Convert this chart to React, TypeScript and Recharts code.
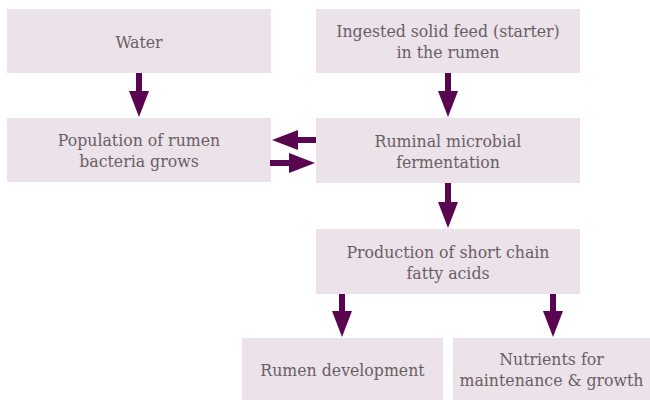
import React from 'react';
import { ScatterChart, Scatter, XAxis, YAxis, ReferenceArea, ReferenceLine } from 'recharts';

// Flowchart boxes in data coordinates (domain 0-650 x, 0-400 y)
const boxLabels: string[][] = [
  ['Water'],
  ['Ingested solid feed (starter)', 'in the rumen'],
  ['Population of rumen', 'bacteria grows'],
  ['Ruminal microbial', 'fermentation'],
  ['Production of short chain', 'fatty acids'],
  ['Rumen development'],
  ['Nutrients for', 'maintenance & growth'],
];
const boxX1 = [7, 316, 7, 316, 316, 242, 453];
const boxX2 = [271, 580, 271, 580, 580, 443, 650];
const boxY1 = [9, 9, 118, 118, 229, 338, 338];
const boxY2 = [73, 73, 182, 183, 294, 400, 400];

// Arrows: start point and tip point, direction of the head
const arrowFromX = [139, 448, 316, 270, 448, 342, 553];
const arrowFromY = [73, 73, 140, 163, 183, 294, 294];
const arrowTipX = [139, 448, 272, 315, 448, 342, 553];
const arrowTipY = [117, 117, 140, 163, 228, 337, 337];
const arrowDir = ['down', 'down', 'left', 'right', 'down', 'down', 'down'];

const HEAD_LEN = 26;
const BOX_FILL = '#ece2ea';
const ARROW = '#5a0550';
const TEXT = '#6b5e63';
const FONT = '"DejaVu Serif Condensed", "DejaVu Serif", serif';

const shaftEnds = arrowDir.map((d, i) => {
  if (d === 'down') return { x: arrowTipX[i], y: arrowTipY[i] - HEAD_LEN + 2 };
  if (d === 'left') return { x: arrowTipX[i] + HEAD_LEN - 2, y: arrowTipY[i] };
  return { x: arrowTipX[i] - HEAD_LEN + 2, y: arrowTipY[i] };
});

const headData = arrowDir.map((d, i) => ({ x: arrowTipX[i], y: arrowTipY[i], dir: d }));

const Head = (props: any) => {
  const { cx, cy, payload } = props;
  const L = HEAD_LEN;
  const W = 10;
  let pts = '';
  if (payload.dir === 'down') pts = `${cx},${cy} ${cx - W},${cy - L} ${cx + W},${cy - L}`;
  else if (payload.dir === 'left') pts = `${cx},${cy} ${cx + L},${cy - W} ${cx + L},${cy + W}`;
  else pts = `${cx},${cy} ${cx - L},${cy - W} ${cx - L},${cy + W}`;
  return <polygon points={pts} fill={ARROW} />;
};

const makeLabel = (lines: string[]) => (props: any) => {
  const vb = props.viewBox || {};
  const cx = vb.x + vb.width / 2;
  const cy = vb.y + vb.height / 2 + 0.5;
  const lh = 21;
  const start = cy - ((lines.length - 1) * lh) / 2;
  return (
    <text
      x={cx}
      y={start}
      textAnchor="middle"
      dominantBaseline="central"
      fill={TEXT}
      fontFamily={FONT}
      fontSize={17.5}
    >
      {lines.map((l, k) => (
        <tspan key={k} x={cx} y={start + k * lh} dominantBaseline="central">
          {l}
        </tspan>
      ))}
    </text>
  );
};

export default function App() {
  return (
    <div style={{ position: 'absolute', left: 0, top: 0, width: 650, height: 400, background: '#fff' }}>
      <ScatterChart width={650} height={400} margin={{ top: 0, right: 0, bottom: 0, left: 0 }}>
        <XAxis type="number" dataKey="x" domain={[0, 650]} hide allowDataOverflow />
        <YAxis type="number" dataKey="y" domain={[0, 400]} reversed hide allowDataOverflow />
        {boxLabels.map((lines, i) => (
          <ReferenceArea
            key={'b' + i}
            x1={boxX1[i]}
            x2={boxX2[i]}
            y1={boxY1[i]}
            y2={boxY2[i]}
            fill={BOX_FILL}
            fillOpacity={1}
            stroke="none"
            ifOverflow="visible"
            label={makeLabel(lines)}
          />
        ))}
        {arrowDir.map((d, i) => (
          <ReferenceLine
            key={'a' + i}
            segment={[
              { x: arrowFromX[i], y: arrowFromY[i] },
              { x: shaftEnds[i].x, y: shaftEnds[i].y },
            ]}
            stroke={ARROW}
            strokeWidth={6}
            ifOverflow="visible"
          />
        ))}
        <Scatter data={headData} shape={<Head />} isAnimationActive={false} />
      </ScatterChart>
    </div>
  );
}
